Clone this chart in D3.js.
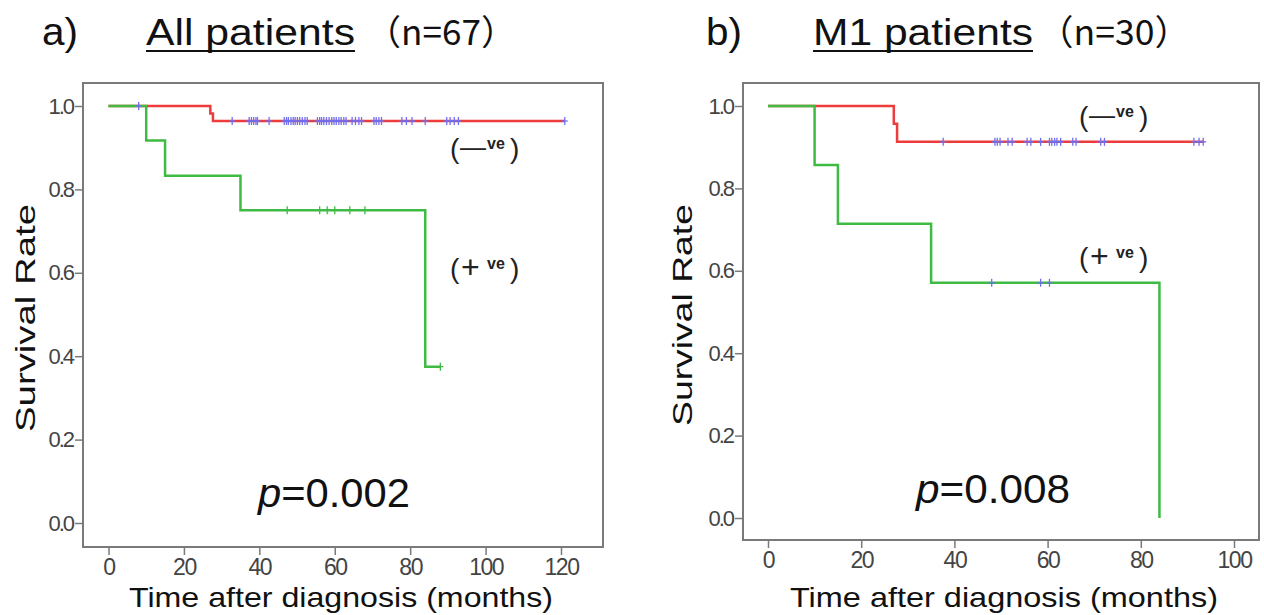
<!DOCTYPE html>
<html><head><meta charset="utf-8">
<script src="https://cdn.jsdelivr.net/npm/d3@7"></script>
<style>html,body{margin:0;padding:0;background:#fff;}svg{display:block;}</style>
</head><body>
<svg id="chart" width="1264" height="615"></svg>
<script>
// ---------- data ----------
const panelLabels = ["a)", "b)"];
const panelTitles = ["All patients", "M1 patients"];
const panelCounts = ["（n=67）", "（n=30）"];
const pValues = ["0.002", "0.008"];
const yTicks = [0.0, 0.2, 0.4, 0.6, 0.8, 1.0];
const xTicksA = [0, 20, 40, 60, 80, 100, 120];
const xTicksB = [0, 20, 40, 60, 80, 100];
const xTitle = "Time after diagnosis (months)";
const yTitle = "Survival Rate";

// Panel a – negative group (red)
const aNegTimes = [0, 27, 27.7];
const aNegSurv  = [1, 0.982, 0.964];
const aNegEnd   = 121;
const aNegCens  = [8, 32.8, 37.3, 37.9, 38.5, 39.1, 39.5, 42.6, 46.6, 47.2, 47.7, 48.4, 49, 49.5, 50.1, 50.7,
                   51.4, 52.1, 52.7, 55.4, 56, 56.5, 57.1, 57.8, 58.5, 59.2, 59.8, 60.4, 61.1, 61.7, 62.4, 63,
                   64.6, 65.5, 66.4, 67.1, 70.4, 71, 71.7, 72.4, 77.8, 79, 80.5, 84, 89.7, 90.6, 91.7, 92.8, 121];
// Panel a – positive group (green)
const aPosTimes = [0, 10, 15, 35, 84];
const aPosSurv  = [1, 0.917, 0.833, 0.75, 0.375];
const aPosEnd   = 88;
const aPosCens  = [47.4, 56, 58, 60, 64, 68, 88];

// Panel b – negative group (red)
const bNegTimes = [0, 27, 27.7];
const bNegSurv  = [1, 0.957, 0.913];
const bNegEnd   = 93.5;
const bNegCens  = [37.6, 48.7, 49.2, 49.8, 51.5, 52.4, 55.6, 56.4, 58.5, 60.4, 60.9, 61.5, 62, 62.8,
                   65.4, 66.1, 71.4, 72.2, 91.4, 92.5, 93.4];
// Panel b – positive group (green)
const bPosTimes = [0, 10, 15, 35, 84];
const bPosSurv  = [1, 0.857, 0.714, 0.571, 0];
const bPosEnd   = 84;
const bPosCens  = [48, 58.5, 60.4];

// ---------- styles ----------
const RED = "#ee3b3b", GREEN = "#3fbb44", BLUE = "#6f6ff0";
const FRAME = "#7a7a7a", TICKTXT = "#444";
const FONT = "'Liberation Sans', Arial, sans-serif";

const svg = d3.select("#chart");

function fitText(sel, w) { return sel.attr("textLength", w).attr("lengthAdjust", "spacingAndGlyphs"); }

const panels = [
  { frame: {x0: 83, x1: 603, y0: 83, y1: 547}, xDom: [0, 120], xRange: [108.5, 561], yRange: [523, 106], xTicks: xTicksA,
    series: [
      {times: aNegTimes, surv: aNegSurv, end: aNegEnd, cens: aNegCens, color: RED, censColor: BLUE},
      {times: aPosTimes, surv: aPosSurv, end: aPosEnd, cens: aPosCens, color: GREEN, censColor: GREEN}],
    label: {x: 42, w: 36}, title: {x: 146, w: 209}, count: {x: 366, w: 150},
    xt: {cx: 341, w: 424}, yt: {cx: 26, cy: 318, w: 228},
    p: {x: 258, y: 507, w: 152},
    neg: {x: 450, y: 157}, pos: {x: 450, y: 277} },
  { frame: {x0: 743, x1: 1259, y0: 83, y1: 540}, xDom: [0, 100], xRange: [768, 1234], yRange: [518, 106], xTicks: xTicksB,
    series: [
      {times: bNegTimes, surv: bNegSurv, end: bNegEnd, cens: bNegCens, color: RED, censColor: BLUE},
      {times: bPosTimes, surv: bPosSurv, end: bPosEnd, cens: bPosCens, color: GREEN, censColor: BLUE}],
    label: {x: 706, w: 36}, title: {x: 813, w: 220}, count: {x: 1038, w: 152},
    xt: {cx: 1004, w: 428}, yt: {cx: 683, cy: 315, w: 222},
    p: {x: 916, y: 503, w: 154},
    neg: {x: 1079, y: 125}, pos: {x: 1079, y: 266} }
];

panels.forEach((P, i) => {
  const g = svg.append("g");
  const x = d3.scaleLinear().domain(P.xDom).range(P.xRange);
  const y = d3.scaleLinear().domain([0, 1]).range(P.yRange);
  const F = P.frame;

  // frame
  g.append("rect").attr("x", F.x0).attr("y", F.y0).attr("width", F.x1 - F.x0).attr("height", F.y1 - F.y0)
    .attr("fill", "none").attr("stroke", FRAME).attr("stroke-width", 2);

  // y axis
  const yAx = g.append("g").attr("transform", `translate(${F.x0},0)`)
    .call(d3.axisLeft(y).tickValues(yTicks).tickFormat(d3.format(".1f")).tickSize(8).tickPadding(2));
  yAx.select(".domain").remove();
  yAx.selectAll("line").attr("stroke", FRAME).attr("stroke-width", 1.5);
  yAx.selectAll("text").attr("font-family", FONT).attr("font-size", 22).attr("fill", TICKTXT)
    .attr("letter-spacing", "-2px");

  // x axis
  const xAx = g.append("g").attr("transform", `translate(0,${F.y1})`)
    .call(d3.axisBottom(x).tickValues(P.xTicks).tickSize(8).tickPadding(4));
  xAx.select(".domain").remove();
  xAx.selectAll("line").attr("stroke", FRAME).attr("stroke-width", 1.5);
  xAx.selectAll("text").attr("font-family", FONT).attr("font-size", 23).attr("fill", TICKTXT)
    .attr("letter-spacing", "-1.5px");

  // curves
  P.series.forEach(s => {
    const pts = s.times.map((t, k) => [t, s.surv[k]]);
    pts.push([s.end, s.surv[s.surv.length - 1]]);
    const line = d3.line().x(d => x(d[0])).y(d => y(d[1])).curve(d3.curveStepAfter);
    g.append("path").attr("d", line(pts)).attr("fill", "none").attr("stroke", s.color).attr("stroke-width", 2.5);
  });
  P.series.forEach(s => {
    const level = t => { let v = 1; s.times.forEach((tt, k) => { if (tt <= t) v = s.surv[k]; }); return v; };
    s.cens.forEach(t => {
      const cx = x(t), cy = y(level(t));
      g.append("line").attr("x1", cx).attr("x2", cx).attr("y1", cy - 4).attr("y2", cy + 4)
        .attr("stroke", s.censColor).attr("stroke-width", 1.3);
      g.append("line").attr("x1", cx - 3).attr("x2", cx + 3).attr("y1", cy).attr("y2", cy)
        .attr("stroke", s.censColor).attr("stroke-width", 1.3);
    });
  });

  // titles
  fitText(svg.append("text").attr("x", P.label.x).attr("y", 45).attr("font-family", FONT).attr("font-size", 38)
    .attr("fill", "#111").text(panelLabels[i]), P.label.w);
  fitText(svg.append("text").attr("x", P.title.x).attr("y", 45).attr("font-family", FONT).attr("font-size", 37)
    .attr("fill", "#111").text(panelTitles[i]), P.title.w);
  svg.append("line").attr("x1", P.title.x).attr("x2", P.title.x + P.title.w).attr("y1", 51).attr("y2", 51)
    .attr("stroke", "#111").attr("stroke-width", 2);
  fitText(svg.append("text").attr("x", P.count.x).attr("y", 45).attr("font-family", "'Noto Sans CJK JP', " + FONT)
    .attr("font-size", 35).attr("fill", "#111").text(panelCounts[i]), P.count.w);

  // axis titles
  fitText(svg.append("text").attr("x", P.xt.cx).attr("y", 607).attr("text-anchor", "middle")
    .attr("font-family", FONT).attr("font-size", 28).attr("fill", "#111").text(xTitle), P.xt.w);
  fitText(svg.append("text").attr("transform", `translate(${P.yt.cx + 9},${P.yt.cy}) rotate(-90)`)
    .attr("text-anchor", "middle").attr("font-family", FONT).attr("font-size", 28).attr("fill", "#111").text(yTitle), P.yt.w);

  // p-value
  const pt = svg.append("text").attr("x", P.p.x).attr("y", P.p.y).attr("font-family", FONT).attr("font-size", 40)
    .attr("fill", "#111");
  pt.append("tspan").attr("font-style", "italic").text("p");
  pt.append("tspan").text("=" + pValues[i]);
  fitText(pt, P.p.w);

  // group labels
  [[P.neg, "—"], [P.pos, "+"]].forEach(([pos, sign]) => {
    const lg = svg.append("g").attr("font-family", FONT).attr("fill", "#222");
    lg.append("text").attr("x", pos.x).attr("y", pos.y + 1).attr("font-size", 28).text("(");
    lg.append("text").attr("x", pos.x + (sign === "+" ? 11 : 10)).attr("y", pos.y + (sign === "+" ? 1 : -1))
      .attr("font-size", sign === "+" ? 32 : 26).attr("font-weight", sign === "+" ? 300 : 400).text(sign);
    lg.append("text").attr("x", pos.x + 37).attr("y", pos.y - 8).attr("font-size", 16).attr("font-weight", "bold").text("ve");
    lg.append("text").attr("x", pos.x + 60).attr("y", pos.y + 1).attr("font-size", 28).text(")");
  });
});
</script>
</body></html>
